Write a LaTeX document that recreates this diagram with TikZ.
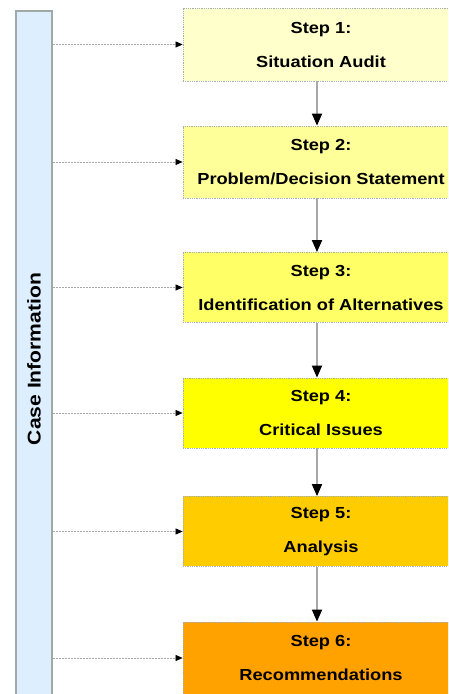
\documentclass[tikz,border=0pt]{standalone}
\usepackage{fontspec}
\usetikzlibrary{arrows.meta,calc}
\newfontfamily\boxfont[FakeStretch=1.14]{Liberation Sans}
\definecolor{cA}{HTML}{FFFFCC}
\definecolor{cB}{HTML}{FFFF99}
\definecolor{cC}{HTML}{FFFF66}
\definecolor{cD}{HTML}{FFFF00}
\definecolor{cE}{HTML}{FFCC00}
\definecolor{cF}{HTML}{FFA200}
\definecolor{barfill}{HTML}{DDEEFF}
\definecolor{baredge}{HTML}{A0A8A8}
\definecolor{edgecol}{HTML}{A4B0B8}
\definecolor{linecol}{HTML}{A8A8A8}
\tikzset{
  stepbox/.style={draw=edgecol, densely dotted, line width=0.8pt,
    minimum width=276pt, inner sep=0pt, align=center,
    font=\boxfont\bfseries\fontsize{16}{34}\selectfont, text=black},
  flowarrow/.style={draw=linecol, line width=1.8pt,
    -{Triangle[width=10pt,length=12pt,color=black]}},
  feedarrow/.style={draw=linecol, dashed, dash pattern=on 2pt off 1pt, line width=0.7pt,
    -{Triangle[width=6pt,length=7pt,color=black]}}
}
\begin{document}
\begin{tikzpicture}[x=1pt,y=1pt]
\useasboundingbox (0,0) rectangle (448,694);
\clip (0,0) rectangle (448,694);
% left bar (y_px 11 .. beyond bottom)
\node[draw=baredge, line width=1.2pt, fill=barfill, minimum height=36pt, minimum width=696pt,
  inner sep=0pt, rotate=90, font=\boxfont\bfseries\fontsize{18.5}{20}\selectfont]
  (bar) at (34,{694-359}) {Case Information};
% steps (centres x=321; y_px centres)
\node[stepbox, fill=cA, minimum height=73pt] (s1) at (321,{694-44.5}) {Step 1:\\Situation Audit};
\node[stepbox, fill=cB, minimum height=72pt] (s2) at (321,{694-162}) {Step 2:\\Problem/Decision Statement};
\node[stepbox, fill=cC, minimum height=70pt] (s3) at (321,{694-287.5}) {Step 3:\\Identification of Alternatives};
\node[stepbox, fill=cD, minimum height=70pt] (s4) at (321,{694-413}) {Step 4:\\Critical Issues};
\node[stepbox, fill=cE, minimum height=70pt] (s5) at (321,{694-531.5}) {Step 5:\\Analysis};
\node[stepbox, fill=cF, minimum height=72pt] (s6) at (321,{694-658}) {Step 6:\\Recommendations};
% vertical flow
\foreach \a/\b in {s1/s2,s2/s3,s3/s4,s4/s5,s5/s6}{
  \draw[flowarrow] ($(\a.south)+(-4,0)$) -- ($(\b.north)+(-4,0)$);
}
% feeds from case information
\foreach \s in {s1,s2,s3,s4,s5,s6}{
  \draw[feedarrow] (bar.south |- \s.west) -- (\s.west);
}
\end{tikzpicture}
\end{document}
